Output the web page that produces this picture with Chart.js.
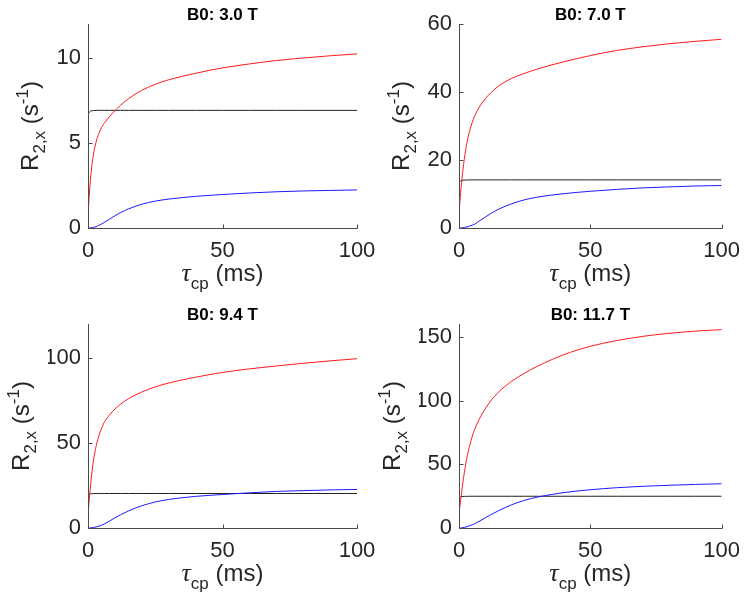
<!DOCTYPE html>
<html>
<head>
<meta charset="utf-8">
<script src="https://cdn.jsdelivr.net/npm/chart.js@4"></script>
<style>
  html, body { margin: 0; padding: 0; background: #fff; }
  #wrap { position: relative; width: 750px; height: 599px; }
  canvas { position: absolute; left: 0; top: 0; }
</style>
</head>
<body>
<div id="wrap">
  <canvas id="c0" width="750" height="599"></canvas>
  <canvas id="c1" width="750" height="599"></canvas>
  <canvas id="c2" width="750" height="599"></canvas>
  <canvas id="c3" width="750" height="599"></canvas>
</div>
<script>
// tau_cp sample points (ms)
const tcp = [0, 0.5, 1, 1.5, 2, 3, 4, 5, 6, 8, 10, 12, 15, 20, 25, 30, 40, 50, 60, 70, 80, 90, 100];

const titles = ['B0: 3.0 T', 'B0: 7.0 T', 'B0: 9.4 T', 'B0: 11.7 T'];
const xTicks = [0, 50, 100];
const yMax = [12, 60, 120, 160];
const yTicks3 = [0, 5, 10];
const yTicks7 = [0, 20, 40, 60];
const yTicks94 = [0, 50, 100];
const yTicks117 = [0, 50, 100, 150];

// B0 = 3.0 T
const red3 = [0.76, 2.0, 3.0, 3.75, 4.3, 5.05, 5.55, 5.9, 6.15, 6.55, 6.9, 7.2, 7.6, 8.1, 8.45, 8.72, 9.1, 9.42, 9.65, 9.85, 10.0, 10.13, 10.24];
const blue3 = [0, 0.002, 0.008, 0.018, 0.03, 0.08, 0.15, 0.23, 0.32, 0.52, 0.72, 0.9, 1.12, 1.4, 1.58, 1.7, 1.86, 1.97, 2.06, 2.13, 2.18, 2.21, 2.24];
const black3 = [6.7, 6.82, 6.88, 6.9, 6.91, 6.92, 6.92, 6.92, 6.92, 6.92, 6.92, 6.92, 6.92, 6.92, 6.92, 6.92, 6.92, 6.92, 6.92, 6.92, 6.92, 6.92, 6.92];

// B0 = 7.0 T
const red7 = [4.2, 9.3, 13.5, 17.1, 20.2, 25.0, 28.4, 31.0, 33.0, 35.9, 38.0, 39.7, 41.7, 44.0, 45.5, 46.8, 48.9, 50.7, 52.2, 53.3, 54.2, 54.9, 55.5];
const blue7 = [0, 0.01, 0.04, 0.09, 0.15, 0.33, 0.55, 0.82, 1.15, 2.2, 3.2, 4.2, 5.5, 7.1, 8.3, 9.1, 10.1, 10.8, 11.35, 11.8, 12.1, 12.35, 12.5];
const black7 = [13.4, 13.8, 14.0, 14.05, 14.1, 14.12, 14.14, 14.15, 14.15, 14.15, 14.15, 14.15, 14.15, 14.15, 14.15, 14.15, 14.15, 14.15, 14.15, 14.15, 14.15, 14.15, 14.15];

// B0 = 9.4 T
const red94 = [7.5, 17.5, 26, 33.3, 39.3, 48, 54, 58.5, 62, 66.5, 70, 72.7, 76, 80, 83, 85.3, 88.7, 91.5, 93.6, 95.3, 96.9, 98.3, 99.6];
const blue94 = [0, 0.02, 0.08, 0.18, 0.3, 0.65, 1.05, 1.6, 2.3, 4.1, 6.0, 7.7, 10.0, 13.1, 15.3, 16.8, 18.6, 19.7, 20.7, 21.5, 22.0, 22.4, 22.7];
const black94 = [19.2, 19.9, 20.1, 20.2, 20.25, 20.3, 20.3, 20.3, 20.3, 20.3, 20.3, 20.3, 20.3, 20.3, 20.3, 20.3, 20.3, 20.3, 20.3, 20.3, 20.3, 20.3, 20.3];

// B0 = 11.7 T
const red117 = [11.5, 20, 28, 36, 43, 55, 64, 71.5, 77.5, 86.5, 93.5, 99.5, 106.5, 115, 121.5, 127, 136, 142.5, 147, 150.3, 152.7, 154.4, 155.6];
const blue117 = [0, 0.03, 0.12, 0.27, 0.45, 1.0, 1.7, 2.5, 3.4, 5.6, 8.0, 10.3, 13.5, 18.2, 21.7, 24.3, 27.8, 30.0, 31.6, 32.7, 33.5, 34.2, 34.7];
const black117 = [23.5, 24.3, 24.6, 24.7, 24.8, 24.85, 24.9, 24.9, 24.9, 24.9, 24.9, 24.9, 24.9, 24.9, 24.9, 24.9, 24.9, 24.9, 24.9, 24.9, 24.9, 24.9, 24.9];

const panels = [
  { id: 'c0', l: 88,  r: 357, t: 24,  b: 228, lab: 50, yTicks: yTicks3,   series: [red3, blue3, black3] },
  { id: 'c1', l: 459, r: 728, t: 24,  b: 228, lab: 50, yTicks: yTicks7,   series: [red7, blue7, black7] },
  { id: 'c2', l: 88,  r: 357, t: 324, b: 528, lab: 59, yTicks: yTicks94,  series: [red94, blue94, black94] },
  { id: 'c3', l: 459, r: 728, t: 324, b: 528, lab: 59, yTicks: yTicks117, series: [red117, blue117, black117] }
];

const lineColors = ['#ff1a1a', '#1a1aff', '#222222'];
const axisColor = '#4a4a4a';
const textColor = '#262626';
const fam = '"Liberation Sans", Arial, Helvetica, sans-serif';
const Y_W = 40, X_H = 40;

function fontOf(p) {
  if (p.serif) return 'italic ' + p.size + 'px "Liberation Serif", "DejaVu Serif", serif';
  return (p.bold ? 'bold ' : '') + p.size + 'px ' + fam;
}

// draw text pieces centred on x, baseline y
function richText(ctx, parts, x, y) {
  let w = 0;
  parts.forEach(p => { ctx.font = fontOf(p); p.w = ctx.measureText(p.t).width; w += p.w; });
  let cx = x - w / 2;
  parts.forEach(p => { ctx.font = fontOf(p); ctx.fillText(p.t, cx, y + (p.dy || 0)); cx += p.w; });
}

const matlabAxes = {
  id: 'matlabAxes',
  afterDraw(chart, args, opts) {
    const { ctx, chartArea: a, scales: { x, y } } = chart;
    ctx.save();
    ctx.strokeStyle = axisColor;
    ctx.lineWidth = 1;
    ctx.beginPath();
    const L = Math.round(a.left) + 0.5, B = Math.round(a.bottom) + 0.5;
    ctx.moveTo(L, Math.round(a.top));
    ctx.lineTo(L, B);
    ctx.lineTo(Math.round(a.right) + 0.5, B);
    xTicks.forEach(v => {
      const px = Math.round(x.getPixelForValue(v)) + 0.5;
      ctx.moveTo(px, B); ctx.lineTo(px, B - 4);
    });
    opts.yTicks.forEach(v => {
      const py = Math.round(y.getPixelForValue(v)) + 0.5;
      ctx.moveTo(L, py); ctx.lineTo(L + 4, py);
    });
    ctx.stroke();

    ctx.fillStyle = '#000';
    ctx.textAlign = 'left';
    ctx.textBaseline = 'alphabetic';
    const cx = (a.left + a.right) / 2;
    richText(ctx, [{ t: opts.title, size: 17, bold: true }], cx, a.top - 4);

    ctx.fillStyle = textColor;
    richText(ctx, [
      { t: 'τ', size: 26, serif: true },
      { t: 'cp', size: 17, dy: 8 },
      { t: ' (ms)', size: 24 }
    ], cx, a.bottom + 53);

    ctx.translate(a.left - opts.lab, (a.top + a.bottom) / 2);
    ctx.rotate(-Math.PI / 2);
    richText(ctx, [
      { t: 'R', size: 24 },
      { t: '2,x', size: 17, dy: 7 },
      { t: ' (s', size: 24 },
      { t: '-1', size: 17, dy: -10 },
      { t: ')', size: 24 }
    ], 0, 0);
    ctx.restore();
  }
};

panels.forEach((p, i) => {
  new Chart(document.getElementById(p.id), {
    type: 'line',
    data: {
      datasets: p.series.map((s, k) => ({
        data: tcp.map((t, j) => ({ x: t, y: s[j] })),
        borderColor: lineColors[k],
        borderWidth: 1,
        pointRadius: 0,
        fill: false,
        cubicInterpolationMode: 'monotone'
      }))
    },
    options: {
      responsive: false,
      animation: false,
      events: [],
      layout: { padding: { left: p.l - Y_W, right: 750 - p.r, top: p.t, bottom: 599 - p.b - X_H } },
      plugins: {
        legend: { display: false },
        tooltip: { enabled: false },
        matlabAxes: { yTicks: p.yTicks, title: titles[i], lab: p.lab }
      },
      scales: {
        x: {
          type: 'linear', min: 0, max: 100,
          afterBuildTicks: s => { s.ticks = xTicks.map(v => ({ value: v })); },
          afterFit: s => { s.height = X_H; },
          grid: { display: false, drawTicks: false },
          border: { display: false },
          ticks: { padding: 10, color: textColor, font: { size: 22, family: fam }, maxRotation: 0, autoSkip: false }
        },
        y: {
          type: 'linear', min: 0, max: yMax[i],
          afterBuildTicks: s => { s.ticks = p.yTicks.map(v => ({ value: v })); },
          afterFit: s => { s.width = Y_W; },
          grid: { display: false, drawTicks: false },
          border: { display: false },
          ticks: { padding: 7, color: textColor, font: { size: 22, family: fam }, autoSkip: false }
        }
      }
    },
    plugins: [matlabAxes]
  });
});
</script>
</body>
</html>
